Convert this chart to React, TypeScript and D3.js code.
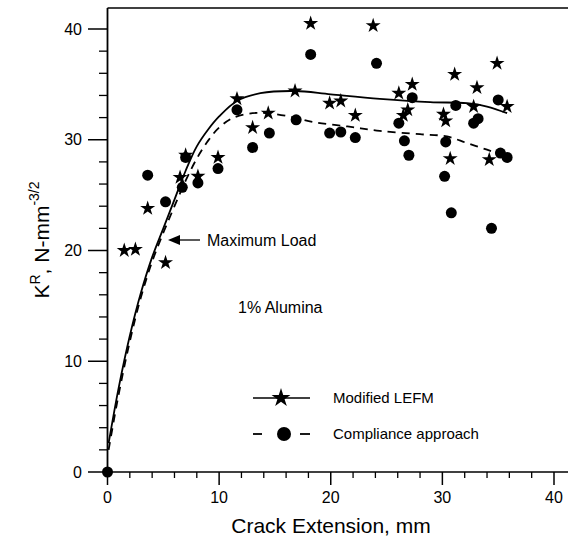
import React from "react";
import * as d3 from "d3";

const W = 568;
const H = 545;

// Modified LEFM (stars)
const starX = [1.5, 2.5, 3.6, 5.2, 6.5, 7.0, 8.1, 9.9, 11.6, 13.0, 14.4, 16.8, 18.2, 19.9, 20.9, 22.2, 23.8, 26.1, 26.5, 26.9, 27.3, 30.1, 30.3, 30.7, 31.1, 32.8, 33.1, 34.2, 34.9, 35.8];
const starY = [20.0, 20.1, 23.8, 18.9, 26.6, 28.6, 26.7, 28.4, 33.7, 31.1, 32.4, 34.4, 40.5, 33.3, 33.5, 32.2, 40.3, 34.2, 32.2, 32.7, 35.0, 32.3, 31.7, 28.3, 35.9, 33.0, 34.7, 28.2, 36.9, 33.0];

// Compliance approach (dots)
const dotX = [0, 3.6, 5.2, 6.7, 7.0, 8.1, 9.9, 11.6, 13.0, 14.5, 16.9, 18.2, 19.9, 20.9, 22.2, 24.1, 26.1, 26.6, 27.0, 27.3, 30.2, 30.3, 30.8, 31.2, 32.8, 33.2, 34.4, 35.0, 35.2, 35.8];
const dotY = [0, 26.8, 24.4, 25.7, 28.4, 26.1, 27.4, 32.7, 29.3, 30.6, 31.8, 37.7, 30.6, 30.7, 30.2, 36.9, 31.5, 29.9, 28.6, 33.8, 26.7, 29.8, 23.4, 33.1, 31.5, 31.9, 22.0, 33.6, 28.8, 28.4];

// Fitted curves
const solidX = [0.1, 1, 2, 3, 4, 5, 6, 7, 8, 9, 10, 11.6, 13.7, 16.8, 20, 24.4, 28.9, 32.2, 34, 35.8];
const solidY = [2.6, 7.6, 12.3, 16.2, 19.4, 22.0, 24.6, 27.2, 29.4, 30.9, 32.1, 33.5, 34.2, 34.4, 34.1, 33.7, 33.4, 33.3, 33.0, 32.4];
const dashX = [0.1, 1, 2, 3, 4, 5, 6, 7, 8, 9, 10, 11.3, 13, 14.4, 16.8, 18.4, 21.5, 24.4, 28, 30.4, 32.2, 34, 35.8];
const dashY = [2.0, 7.0, 11.8, 15.8, 19.0, 21.6, 24.0, 26.3, 28.3, 29.9, 31.1, 32.0, 32.4, 32.4, 32.0, 31.6, 31.2, 30.8, 30.5, 30.3, 29.7, 29.1, 28.5];

const xMajor = [0, 10, 20, 30, 40];
const yMajor = [0, 10, 20, 30, 40];

const FONT = "Liberation Sans, Arial, sans-serif";

export default function App() {
  const x = d3.scaleLinear().domain([0, 40]).range([107.5, 554]);
  const y = d3.scaleLinear().domain([0, 40]).range([472, 29]);
  const xMinor = d3.range(0, 42, 2).filter((v) => v % 10 !== 0);
  const yMinor = d3.range(0, 42, 2).filter((v) => v % 10 !== 0);

  const line = d3
    .line<[number, number]>()
    .x((d) => x(d[0]))
    .y((d) => y(d[1]))
    .curve(d3.curveCatmullRom.alpha(0.5));
  const solidPath = line(solidX.map((v, i) => [v, solidY[i]]) as [number, number][]) || "";
  const dashPath = line(dashX.map((v, i) => [v, dashY[i]]) as [number, number][]) || "";
  const star = d3.symbol().type(d3.symbolStar).size(70)() || "";
  const starLeg = d3.symbol().type(d3.symbolStar).size(110)() || "";

  return (
    <svg width={W} height={H} style={{ position: "absolute", left: 0, top: 0, background: "#fff" }} fontFamily={FONT}>
      {/* frame */}
      <line x1={107.5} x2={568} y1={8} y2={8} stroke="#000" strokeWidth={1.5} />
      <line x1={107.5} x2={107.5} y1={8} y2={476} stroke="#000" strokeWidth={1.8} />
      <line x1={107.5} x2={568} y1={472} y2={472} stroke="#000" strokeWidth={1.5} />
      {/* y ticks */}
      {yMajor.map((v) => (
        <g key={"ym" + v}>
          <line x1={88} x2={107.5} y1={y(v)} y2={y(v)} stroke="#000" strokeWidth={1.5} />
          <text x={82} y={y(v)} dy="0.35em" textAnchor="end" fontSize={16}>{v}</text>
        </g>
      ))}
      {yMinor.map((v) => (
        <line key={"yn" + v} x1={99} x2={107.5} y1={y(v)} y2={y(v)} stroke="#000" strokeWidth={1.3} />
      ))}
      {/* x ticks */}
      {xMajor.map((v) => (
        <g key={"xm" + v}>
          <line x1={x(v)} x2={x(v)} y1={472} y2={485} stroke="#000" strokeWidth={1.5} />
          <text x={x(v)} y={503} textAnchor="middle" fontSize={16}>{v}</text>
        </g>
      ))}
      {xMinor.map((v) => (
        <line key={"xn" + v} x1={x(v)} x2={x(v)} y1={472} y2={478} stroke="#000" strokeWidth={1.3} />
      ))}
      {/* axis titles */}
      <text x={331} y={533} textAnchor="middle" fontSize={21}>Crack Extension, mm</text>
      <text transform="translate(49,240) rotate(-90)" textAnchor="middle" fontSize={21}>
        K<tspan dy={-9} fontSize={14}>R</tspan>
        <tspan dy={9}>, N-mm</tspan>
        <tspan dy={-10} fontSize={14}>-3/2</tspan>
      </text>
      {/* curves */}
      <path d={solidPath} fill="none" stroke="#000" strokeWidth={1.8} />
      <path d={dashPath} fill="none" stroke="#000" strokeWidth={1.8} strokeDasharray="8,6" />
      {/* points */}
      {dotX.map((v, i) => (
        <circle key={"d" + i} cx={x(v)} cy={y(dotY[i])} r={5.5} fill="#000" />
      ))}
      {starX.map((v, i) => (
        <path key={"s" + i} d={star} transform={`translate(${x(v)},${y(starY[i])})`} fill="#000" />
      ))}
      {/* annotations */}
      <line x1={200} x2={176} y1={240} y2={240} stroke="#000" strokeWidth={1.3} />
      <path d="M168,240 L180,235 L180,245 Z" fill="#000" />
      <text x={207} y={246} fontSize={16}>Maximum Load</text>
      <text x={238} y={313} fontSize={16}>1% Alumina</text>
      {/* legend */}
      <line x1={253} x2={310} y1={398} y2={398} stroke="#000" strokeWidth={1.5} />
      <path d={starLeg} transform="translate(281,398)" fill="#000" />
      <text x={333} y={403} fontSize={15}>Modified LEFM</text>
      <line x1={253} x2={262} y1={434} y2={434} stroke="#000" strokeWidth={1.8} />
      <line x1={300} x2={310} y1={434} y2={434} stroke="#000" strokeWidth={1.8} />
      <circle cx={284} cy={434} r={7} fill="#000" />
      <text x={333} y={439} fontSize={15}>Compliance approach</text>
    </svg>
  );
}
